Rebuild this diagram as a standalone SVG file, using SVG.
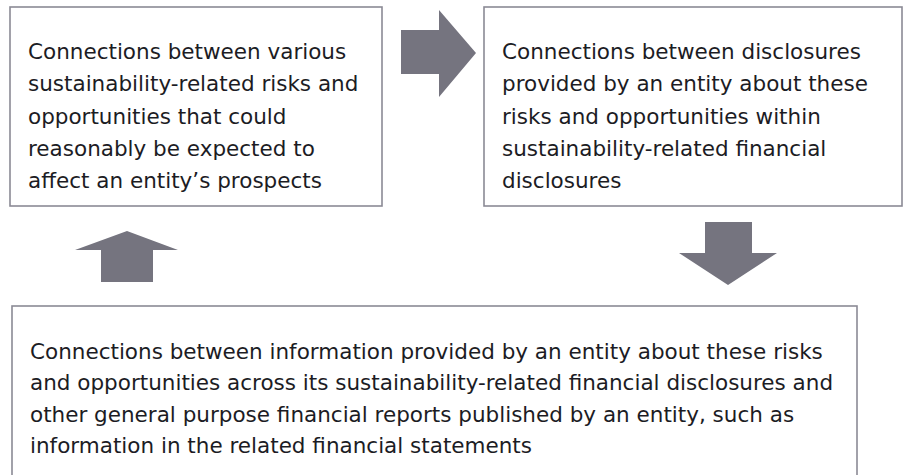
<svg xmlns="http://www.w3.org/2000/svg" width="904" height="475" viewBox="0 0 904 475">
  <style>
    .box { fill: #ffffff; stroke: #8b8a95; stroke-width: 1.6; }
    .arrow { fill: #75747f; }
    .label { font-family: "DejaVu Sans", "Liberation Sans", sans-serif; font-size: 21.5px; fill: #1c1c24; }
  </style>
  <rect width="904" height="475" fill="#ffffff"/>

  <!-- block arrows linking the three statements -->
  <g id="connectors">
    <polygon class="arrow" points="401,30 439,30 439,10 476,53 439,97 439,74 401,74"/>
    <polygon class="arrow" points="705,222 752,222 752,253 777,253 728,285 679,253 705,253"/>
    <polygon class="arrow" points="101,282 101,250 75,250 127,231 178,250 153,250 153,282"/>
  </g>

  <g id="node-risks">
    <rect class="box" x="10" y="7" width="372" height="199"/>
    <text class="label">
      <tspan x="28" y="59">Connections between various</tspan>
      <tspan x="28" y="91">sustainability-related risks and</tspan>
      <tspan x="28" y="124">opportunities that could</tspan>
      <tspan x="28" y="156">reasonably be expected to</tspan>
      <tspan x="28" y="188">affect an entity’s prospects</tspan>
    </text>
  </g>

  <g id="node-disclosures">
    <rect class="box" x="484" y="7" width="418" height="199"/>
    <text class="label">
      <tspan x="502" y="59">Connections between disclosures</tspan>
      <tspan x="502" y="91">provided by an entity about these</tspan>
      <tspan x="502" y="124">risks and opportunities within</tspan>
      <tspan x="502" y="156">sustainability-related financial</tspan>
      <tspan x="502" y="188">disclosures</tspan>
    </text>
  </g>

  <g id="node-reports">
    <rect class="box" x="12" y="306" width="845" height="190"/>
    <text class="label">
      <tspan x="30" y="359">Connections between information provided by an entity about these risks</tspan>
      <tspan x="30" y="390">and opportunities across its sustainability-related financial disclosures and</tspan>
      <tspan x="30" y="422">other general purpose financial reports published by an entity, such as</tspan>
      <tspan x="30" y="453">information in the related financial statements</tspan>
    </text>
  </g>
</svg>
